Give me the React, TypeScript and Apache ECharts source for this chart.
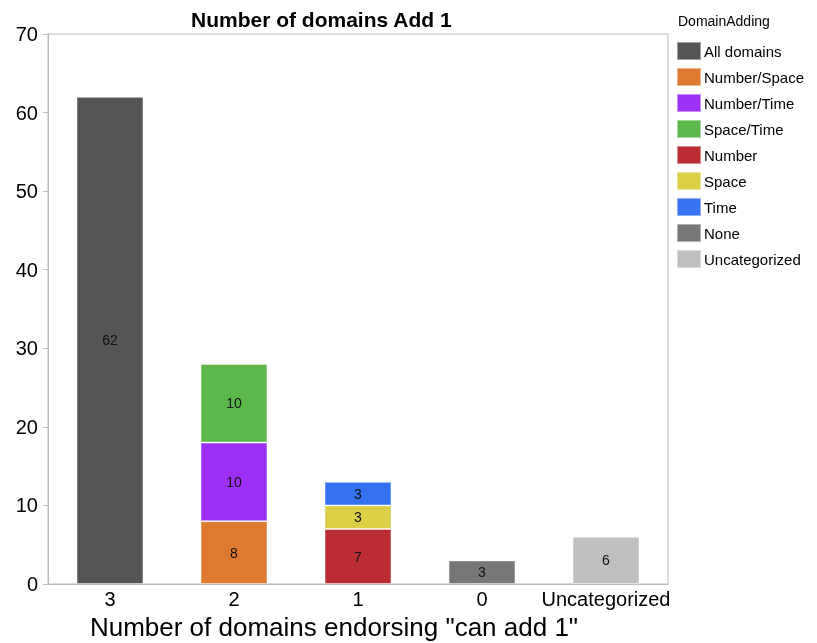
import React, { useEffect, useRef } from "react";
import * as echarts from "echarts";

const categories = ["3", "2", "1", "0", "Uncategorized"];
const seriesNames = [
  "All domains",
  "Number/Space",
  "Number/Time",
  "Space/Time",
  "Number",
  "Space",
  "Time",
  "None",
  "Uncategorized",
];
const allDomains = [62, "-", "-", "-", "-"];
const numberSpace = ["-", 8, "-", "-", "-"];
const numberTime = ["-", 10, "-", "-", "-"];
const spaceTime = ["-", 10, "-", "-", "-"];
const numberOnly = ["-", "-", 7, "-", "-"];
const spaceOnly = ["-", "-", 3, "-", "-"];
const timeOnly = ["-", "-", 3, "-", "-"];
const noneData = ["-", "-", "-", 3, "-"];
const uncategorized = ["-", "-", "-", "-", 6];
const seriesData = [
  allDomains,
  numberSpace,
  numberTime,
  spaceTime,
  numberOnly,
  spaceOnly,
  timeOnly,
  noneData,
  uncategorized,
];
const colors = [
  "#555555",
  "#DE7A2F",
  "#9C30F7",
  "#5CB84A",
  "#BA2D30",
  "#DCCF45",
  "#3572EF",
  "#777777",
  "#BFBFBF",
];

const FONT = "Liberation Sans, Arial, Helvetica, sans-serif";

export default function App() {
  const ref = useRef<HTMLDivElement>(null);
  useEffect(() => {
    if (!ref.current) return;
    const chart = echarts.init(ref.current, undefined, { renderer: "svg" });
    chart.setOption({
      animation: false,
      textStyle: { fontFamily: FONT },
      title: [
        {
          text: "Number of domains Add 1",
          left: 186,
          top: 4,
          textStyle: { fontSize: 21, fontWeight: "bold", color: "#000", fontFamily: FONT },
        },
        {
          text: "DomainAdding",
          left: 673,
          top: 9,
          textStyle: { fontSize: 14, fontWeight: "normal", color: "#000", fontFamily: FONT },
        },
      ],
      legend: {
        orient: "vertical",
        left: 676,
        top: 41,
        padding: 0,
        itemWidth: 24,
        itemHeight: 18,
        itemGap: 6,
        icon: "rect",
        data: seriesNames,
        textStyle: { fontSize: 15, color: "#000", fontFamily: FONT, padding: [0, 0, 0, -2], lineHeight: 18 },
      },
      grid: {
        left: 48,
        right: 149,
        top: 34,
        bottom: 59,
        show: true,
        borderColor: "#bbbbbb",
        borderWidth: 1,
      },
      xAxis: {
        type: "category",
        data: categories,
        axisLine: { lineStyle: { color: "#bbbbbb" } },
        axisTick: { show: false },
        axisLabel: { fontSize: 20, color: "#000", margin: 5, fontFamily: FONT, interval: 0 },
      },
      yAxis: {
        type: "value",
        min: 0,
        max: 70,
        interval: 10,
        splitLine: { show: false },
        axisLine: { show: true, lineStyle: { color: "#bbbbbb" } },
        axisTick: { show: true, length: 5, lineStyle: { color: "#bbbbbb" } },
        axisLabel: { fontSize: 20, color: "#000", margin: 10, fontFamily: FONT },
      },
      graphic: [
        {
          type: "text",
          x: 334,
          y: 627,
          style: {
            text: 'Number of domains endorsing "can add 1"',
            fontSize: 26,
            fontFamily: FONT,
            fill: "#000",
            align: "center",
            verticalAlign: "middle",
          },
        },
      ],
      series: seriesNames.map((name, i) => ({
        name,
        type: "bar",
        stack: "total",
        barWidth: "54%",
        data: seriesData[i],
        itemStyle: { color: colors[i], borderColor: "rgba(255,255,255,0.45)", borderWidth: 1 },
        label: {
          show: true,
          position: "inside",
          fontSize: 14,
          color: "#111",
          fontFamily: FONT,
        },
      })),
    });
    return () => chart.dispose();
  }, []);
  return (
    <div
      ref={ref}
      style={{ position: "fixed", left: 0, top: 0, width: 817, height: 643 }}
    />
  );
}
